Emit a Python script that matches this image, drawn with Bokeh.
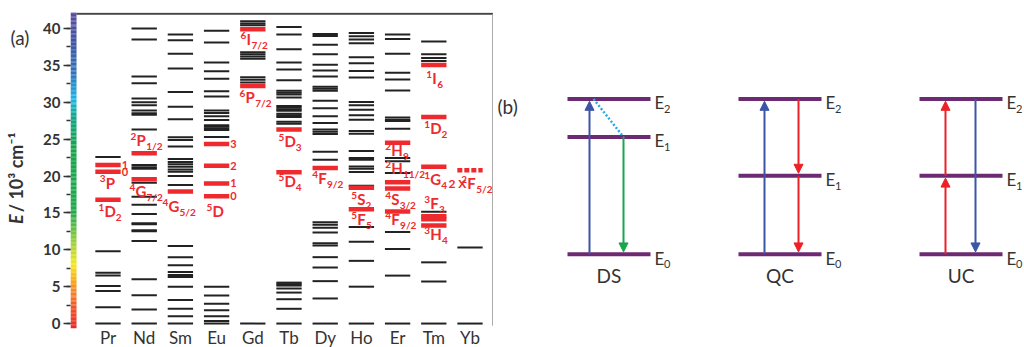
import numpy as np
from bokeh.plotting import figure
from bokeh.layouts import row
from bokeh.models import Arrow, NormalHead, SingleIntervalTicker, Range1d
from bokeh.core.properties import value
from bokeh.embed import file_html
from bokeh.resources import INLINE

# ---------------- data: panel (a), energies in 10^3 cm^-1 ----------------
elements = ["Pr", "Nd", "Sm", "Eu", "Gd", "Tb", "Dy", "Ho", "Er", "Tm", "Yb"]

pr_black = [22.6, 9.8, 6.9, 6.5, 5.1, 4.4, 2.2, 0.0]
pr_red = [21.5, 20.6, 16.8]
nd_black = [40.0, 38.5, 33.5, 32.6, 30.5, 30.0, 29.6, 28.9, 28.5, 28.3, 26.3, 21.5, 21.2,
            21.0, 19.1, 17.2, 16.1, 14.85, 13.6, 13.45, 12.65, 12.5, 11.2, 6.0, 3.85, 1.9, 0.0]
nd_red = [23.1, 19.55]
sm_black = [39.2, 38.4, 36.6, 34.6, 31.4, 29.4, 27.7, 25.25, 24.9, 24.0, 22.3, 21.9, 21.6,
            21.25, 20.9, 20.6, 20.0, 18.8, 10.5, 9.0, 7.9, 7.0, 6.6, 6.3, 5.0, 3.2, 2.0, 1.0, 0.0]
sm_red = [17.9]
eu_black = [39.7, 38.1, 35.4, 34.2, 33.2, 31.5, 30.8, 28.9, 28.55, 28.1, 27.6, 26.9, 26.7,
            26.45, 26.25, 25.3, 5.0, 3.8, 2.7, 1.8, 1.0, 0.35, 0.0]
eu_red = [24.35, 21.4, 19.0, 17.25]
gd_black = [41.0, 40.7, 40.45, 36.8, 36.5, 36.2, 35.9, 33.4, 33.05, 32.7, 0.0]
gd_red = [39.9, 32.2]
tb_black = [40.2, 39.2, 37.2, 35.4, 34.45, 33.0, 31.55, 31.3, 31.05, 30.65, 29.5, 29.3, 29.05,
            28.85, 28.45, 28.25, 28.0, 27.35, 27.1, 5.55, 5.35, 5.15, 4.75, 4.2, 3.3, 2.0, 0.0]
tb_red = [26.3, 20.5]
dy_black = [39.25, 39.0, 37.8, 36.5, 35.1, 34.3, 33.5, 32.1, 31.85, 31.55, 30.2, 29.2, 28.1,
            27.2, 26.3, 26.0, 25.7, 23.3, 22.2, 13.75, 13.4, 13.0, 12.35, 10.9, 10.6, 9.0, 7.6,
            5.75, 3.4, 0.0]
dy_red = [21.1]
ho_black = [39.4, 38.95, 38.5, 38.0, 36.1, 35.3, 34.25, 33.35, 30.05, 29.6, 29.0, 28.25, 27.65,
            26.1, 25.75, 23.4, 22.45, 22.2, 21.3, 21.0, 20.55, 18.7, 13.1, 11.1, 8.5, 5.0, 0.0]
ho_red = [18.4, 15.5]
er_black = [39.2, 38.6, 36.6, 34.0, 33.1, 31.6, 27.95, 27.65, 27.45, 26.4, 22.45, 22.0, 20.4,
            12.4, 10.1, 6.5, 0.0]
er_red = [24.5, 19.15, 18.3, 15.2]
tm_black = [38.25, 36.5, 36.0, 35.6, 15.15, 8.3, 5.7, 0.0]
tm_red = [35.05, 28.0, 21.25, 14.55, 14.15, 13.3]
yb_black = [10.3, 0.0]
yb_red_2x = [20.8]

black_levels = [pr_black, nd_black, sm_black, eu_black, gd_black, tb_black,
                dy_black, ho_black, er_black, tm_black, yb_black]
red_levels = [pr_red, nd_red, sm_red, eu_red, gd_red, tb_red,
              dy_red, ho_red, er_red, tm_red, []]

# term-symbol labels: (x in element units, energy, superscript, letter, subscript)
term_labels = [
    (0.773, 19.09, "3", "P", ""), (0.738, 15.23, "1", "D", "2"),
    (1.622, 24.85, "2", "P", "1/2"), (1.594, 17.94, "4", "G", "7/2"),
    (2.506, 15.90, "4", "G", "5/2"),
    (3.721, 15.23, "5", "D", ""),
    (4.660, 38.55, "6", "I", "7/2"), (4.633, 30.69, "6", "P", "7/2"),
    (5.709, 24.72, "5", "D", "3"), (5.709, 19.30, "5", "D", "4"),
    (6.640, 19.70, "4", "F", "9/2"),
    (7.717, 16.85, "5", "S", "2"), (7.717, 14.14, "5", "F", "5"),
    (8.657, 23.50, "2", "H", "9"), (8.657, 21.06, "2", "H", "11/2"),
    (8.657, 16.85, "4", "S", "3/2"), (8.657, 14.14, "4", "F", "9/2"),
    (9.790, 33.26, "1", "I", "6"), (9.735, 26.48, "1", "D", "2"),
    (9.735, 19.56, "1", "G", "4"), (9.735, 16.31, "3", "F", "3"),
    (9.735, 12.11, "3", "H", "4"),
    (10.76, 19.02, "2", "F", "5/2"),
]
# small J labels next to levels: (element index, energy, text)
j_labels = [(1, 21.5, "1"), (1, 20.6, "0"),
            (4, 24.35, "3"), (4, 21.4, "2"), (4, 19.0, "1"), (4, 17.25, "0")]
yb_prefix = "2 X"
y_label_italic = "E"
y_label_rest = " / 10³ cm⁻¹"

# ---------------- data: panel (b) ----------------
schemes = ["DS", "QC", "UC"]
ds_levels = [0.0, 0.755, 1.0]
qc_levels = [0.0, 0.506, 1.0]
uc_levels = [0.0, 0.506, 1.0]
scheme_levels = [ds_levels, qc_levels, uc_levels]
level_subs = ["0", "1", "2"]
# transitions: (scheme index, from level, to level, x offset px, colour)
transitions = [
    (0, 0, 2, -19.5, "#3d55a6"), (0, 1, 0, 14.5, "#1aa64b"),
    (1, 0, 2, -15.5, "#3d55a6"), (1, 2, 1, 18.5, "#ee2027"), (1, 1, 0, 18.5, "#ee2027"),
    (2, 0, 1, -15.5, "#ee2027"), (2, 1, 2, -15.5, "#ee2027"), (2, 2, 0, 14.5, "#3d55a6"),
]

# ---------------- styling ----------------
RED = "#ee2a2e"
BLACK = "#222222"
FONT = "Lato"
TXT = "#333333"

PXU = 36.2          # px per element
PXE = 7.375         # px per 1000 cm^-1
H = 347
WL = 40             # narrow strip holding "(a)" and the axis title
LEFT = 70           # page x of the frame's left edge
WA = 493            # page x of panel (a) right edge
TOP = 12
x_start = 1 - (107.5 - LEFT) / PXU
x_end = 1 + (WA - 107.5) / PXU
y_end = 42.0 + 1.3 / PXE
y_start = y_end - (H - TOP) / PXE

# ---- left strip (panel label and axis title) ----
pl = figure(width=WL, height=H, x_range=Range1d(0, WL), y_range=Range1d(0, H),
            output_backend="svg", toolbar_location=None, x_axis_location=None, y_axis_location=None,
            min_border_left=0, min_border_right=0, min_border_top=0, min_border_bottom=0)
pl.grid.visible = False
pl.outline_line_color = None
pl.text(x=[10], y=[H - 26], text=["(a)"], text_align="left", text_baseline="middle",
        text_font=value(FONT), text_font_size="19px", text_color=TXT)
pl.text(x=[15], y=[H - 219], text=[y_label_italic], angle=np.pi / 2, text_align="left",
        text_baseline="middle", text_font=value(FONT), text_font_style="bold italic",
        text_font_size="18px", text_color=TXT)
pl.text(x=[15], y=[H - 207], text=[y_label_rest], angle=np.pi / 2, text_align="left",
        text_baseline="middle", text_font=value(FONT), text_font_style="bold",
        text_font_size="18px", text_color=TXT)

# ---- panel (a) ----
pa = figure(width=WA - WL, height=H, x_range=Range1d(x_start, x_end),
            y_range=Range1d(y_start, y_end),
            output_backend="svg", toolbar_location=None, x_axis_location=None,
            min_border_left=LEFT - WL, min_border_right=0, min_border_top=TOP, min_border_bottom=0)
pa.grid.visible = False
pa.outline_line_color = None

ax = pa.yaxis[0]
ax.ticker = SingleIntervalTicker(interval=5, num_minor_ticks=2)
ax.bounds = (0, 42)
ax.axis_line_color = None
ax.major_tick_out = 7
ax.major_tick_in = 0
ax.minor_tick_out = 4
ax.minor_tick_in = 0
ax.major_tick_line_color = TXT
ax.minor_tick_line_color = TXT
ax.major_tick_line_width = 1.5
ax.minor_tick_line_width = 1.5
ax.major_label_standoff = 3
ax.major_label_text_font = FONT
ax.major_label_text_font_style = "bold"
ax.major_label_text_font_size = "15px"
ax.major_label_text_color = TXT

# rainbow colour bar along the energy axis (decorative)
stops_v = [-0.64, 2.5, 5.5, 8.0, 11.0, 15.0, 24.0, 28.0, 30.5, 34.0, 38.0, 42.2]
stops_c = ["#e8282b", "#f05a28", "#f7a01c", "#f5e81c", "#9fd03f", "#22aa4a", "#17a34d",
           "#14a58a", "#1db4e6", "#2f72bc", "#3f55a5", "#5b4b9e"]
rgb = np.array([[int(c[i:i + 2], 16) for i in (1, 3, 5)] for c in stops_c], dtype=float)
edges = np.linspace(stops_v[0], stops_v[-1], 240)
mids = (edges[:-1] + edges[1:]) / 2
cols = ["#%02x%02x%02x" % tuple(int(round(np.interp(m, stops_v, rgb[:, k]))) for k in range(3))
        for m in mids]
cb_right = 1 - (107.5 - 76) / PXU
pa.quad(left=x_start, right=cb_right, bottom=edges[:-1], top=edges[1:] + 0.01,
        fill_color=cols, line_color=None)

# frame: top and right border
pa.segment(x0=[cb_right], y0=[42.0], x1=[x_end], y1=[42.0], line_color="#444444", line_width=2)
pa.segment(x0=[x_end - 0.02], y0=[42.0], x1=[x_end - 0.02], y1=[-0.3],
           line_color="#999999", line_width=1.2)

HW = 0.35
bx0, bx1, by = [], [], []
rx0, rx1, ry = [], [], []
for i, (bl, rl) in enumerate(zip(black_levels, red_levels)):
    xc = i + 1
    for e in bl:
        bx0.append(xc - HW); bx1.append(xc + HW); by.append(e)
    for e in rl:
        rx0.append(xc - HW); rx1.append(xc + HW); ry.append(e)
pa.segment(x0=bx0, y0=by, x1=bx1, y1=by, line_color=BLACK, line_width=2)
pa.segment(x0=rx0, y0=ry, x1=rx1, y1=ry, line_color=RED, line_width=4.5)
pa.segment(x0=[11 - HW], y0=yb_red_2x, x1=[11 + HW], y1=yb_red_2x, line_color=RED,
           line_width=4.5, line_dash="5 2")

# element names
pa.text(x=list(range(1, 12)), y=[(323.3 - 337.5) / PXE] * 11, text=elements, text_align="center",
        text_baseline="middle", text_font=value(FONT), text_font_size="17px", text_color=TXT)

# term symbols
MAIN_FS = 15
widths = {"P": 0.62, "D": 0.72, "G": 0.70, "I": 0.30, "F": 0.56, "S": 0.53, "H": 0.75}
sx, sy, st = [], [], []
mx, my, mt, mo = [], [], [], []
ux, uy, ut, uo = [], [], [], []
for (x, y, sup, main, sub) in term_labels:
    sx.append(x); sy.append(y); st.append(sup)
    mx.append(x); my.append(y); mt.append(main); mo.append(6)
    if sub:
        ux.append(x); uy.append(y); ut.append(sub); uo.append(6 + widths[main] * MAIN_FS + 0.5)
pa.text(x=sx, y=sy, text=st, y_offset=-4, text_baseline="middle", text_align="left",
        text_font=value(FONT), text_font_style="bold", text_font_size="10px", text_color=RED)
pa.text(x=mx, y=my, text=mt, x_offset=mo, text_baseline="middle", text_align="left",
        text_font=value(FONT), text_font_style="bold", text_font_size=f"{MAIN_FS}px", text_color=RED)
pa.text(x=ux, y=uy, text=ut, x_offset=uo, y_offset=6, text_baseline="middle", text_align="left",
        text_font=value(FONT), text_font_style="bold", text_font_size="10px", text_color=RED)
pa.text(x=[j[0] + 0.38 for j in j_labels], y=[j[1] for j in j_labels], text=[j[2] for j in j_labels],
        text_baseline="middle", text_align="left", text_font=value(FONT), text_font_style="bold",
        text_font_size="11px", text_color=RED)
pa.text(x=[10.406], y=[19.02], text=[yb_prefix], text_baseline="middle", text_align="left",
        text_font=value(FONT), text_font_style="bold", text_font_size="12px", text_color=RED)

# ---------------- panel (b) ----------------
WB = 1024 - WA
E0_PX, E2_PX = 250.5, 89.5
U = E0_PX - E2_PX
pb = figure(width=WB, height=H, x_range=Range1d(0, WB),
            y_range=Range1d(-(H - E0_PX) / U, E0_PX / U),
            output_backend="svg", toolbar_location=None, x_axis_location=None, y_axis_location=None,
            min_border_left=0, min_border_right=0, min_border_top=0, min_border_bottom=0)
pb.grid.visible = False
pb.outline_line_color = None

centers = [608.5 - WA, 779.5 - WA, 960.5 - WA]
LHW = 41.5
lx0, lx1, ly = [], [], []
ex, ey, esub = [], [], []
for c, lev in zip(centers, scheme_levels):
    for k, e in enumerate(lev):
        lx0.append(c - LHW); lx1.append(c + LHW); ly.append(e)
        ex.append(c + LHW + 4); ey.append(e); esub.append(level_subs[k])
pb.segment(x0=lx0, y0=ly, x1=lx1, y1=ly, line_color="#6c2a72", line_width=4)
pb.text(x=ex, y=ey, text=["E"] * len(ex), y_offset=4, text_baseline="middle", text_align="left",
        text_font=value(FONT), text_font_size="17px", text_color=TXT)
pb.text(x=ex, y=ey, text=esub, x_offset=9.5, y_offset=10, text_baseline="middle", text_align="left",
        text_font=value(FONT), text_font_size="11px", text_color=TXT)

gap = 2.5 / U
for (s, a, b, dx, col) in transitions:
    lev = scheme_levels[s]
    y0, y1 = lev[a], lev[b]
    y1 = y1 - gap if y1 > y0 else y1 + gap
    xx = centers[s] + dx
    pb.add_layout(Arrow(end=NormalHead(size=9, fill_color=col, line_color=col),
                        x_start=xx, y_start=y0, x_end=xx, y_end=y1,
                        line_color=col, line_width=2))
# non-radiative relaxation (dotted)
pb.segment(x0=[centers[0] - 15.5], y0=[ds_levels[2]], x1=[centers[0] + 14.5], y1=[ds_levels[1]],
           line_color="#29a9e1", line_width=2.5, line_dash="2 2")

pb.text(x=centers, y=[(E0_PX - 272) / U] * 3, text=schemes, text_align="center",
        text_baseline="middle", text_font=value(FONT), text_font_size="19px", text_color=TXT)
pb.text(x=[4], y=[(E0_PX - 97) / U], text=["(b)"], text_align="left", text_baseline="middle",
        text_font=value(FONT), text_font_size="19px", text_color=TXT)

layout = row(pl, pa, pb)
open("out.html", "w").write(file_html(layout, INLINE))
